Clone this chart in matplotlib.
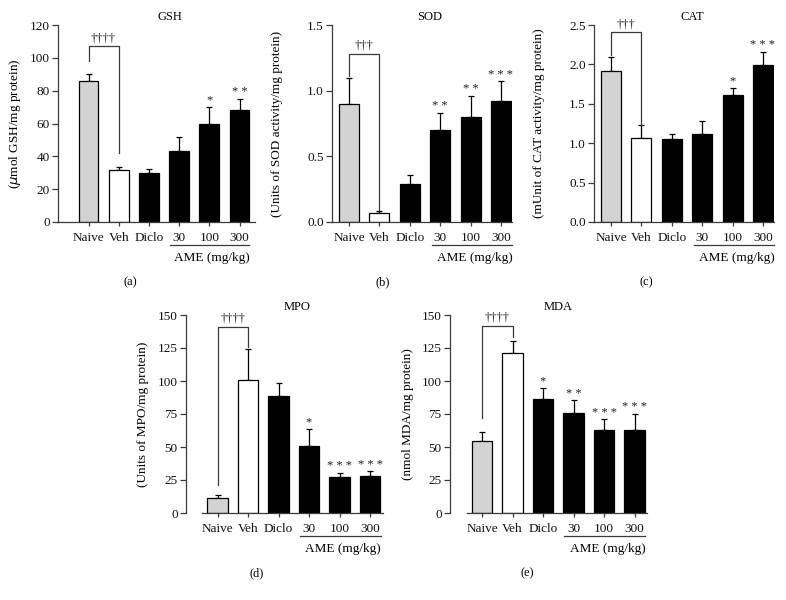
import matplotlib
matplotlib.use("Agg")
import matplotlib.pyplot as plt
import matplotlib.transforms as mtransforms

plt.rcParams['font.family'] = ['Liberation Serif', 'DejaVu Serif']
plt.rcParams['font.size'] = 9

W, H = 786, 600

groups = ['Naive', 'Veh', 'Diclo', '30', '100', '300']

gsh = [86, 31.5, 30, 43.5, 60, 68]
gsh_err = [4, 2, 2.5, 8, 10, 7]
gsh_sig = ['', '', '', '', '*', '**']

sod = [0.90, 0.07, 0.29, 0.70, 0.80, 0.92]
sod_err = [0.20, 0.015, 0.07, 0.13, 0.16, 0.15]
sod_sig = ['', '', '', '**', '**', '***']

cat = [1.92, 1.06, 1.05, 1.12, 1.61, 1.99]
cat_err = [0.17, 0.17, 0.07, 0.16, 0.09, 0.17]
cat_sig = ['', '', '', '', '*', '***']

mpo = [11, 101, 89, 51, 27, 28]
mpo_err = [2.5, 23, 9.5, 13, 3.5, 3.5]
mpo_sig = ['', '', '', '*', '***', '***']

mda = [54.5, 121, 86, 76, 63, 63]
mda_err = [7, 9, 9, 9.5, 8, 12]
mda_sig = ['', '', '*', '**', '***', '***']

bar_colors = ['#d3d3d3', 'white', 'black', 'black', 'black', 'black']
AXC = '#3a3a3a'


def fx(px):
    return px / W


def fy(py):
    return 1 - py / H


def panel(L, R, T, B, c0, step, vals, errs, sigs, ymax, ystep, fmt,
          title, title_x, ylabel, ylabel_x, letter, letter_x, letter_y,
          bracket, daggers, line_x, xaxis_start=None):
    ax = fig.add_axes([fx(L), fy(B), fx(R - L), (B - T) / H])
    x = list(range(len(vals)))
    ax.bar(x, vals, width=0.66, color=bar_colors, edgecolor='black',
           linewidth=0.9, zorder=2)
    ax.errorbar(x, vals, yerr=[[0] * len(vals), errs], fmt='none',
                ecolor='black', elinewidth=0.9, capsize=2.5, capthick=0.9,
                zorder=1)
    ax.set_xlim((L - c0) / step, (R - c0) / step)
    ax.set_ylim(0, ymax)
    ticks = [i * ystep for i in range(int(round(ymax / ystep)) + 1)]
    ax.set_yticks(ticks)
    ax.set_yticklabels([fmt.format(t) for t in ticks])
    ax.set_xticks(x)
    ax.set_xticklabels(groups)
    for s in ['top', 'right']:
        ax.spines[s].set_visible(False)
    for s in ['left', 'bottom']:
        ax.spines[s].set_color(AXC)
        ax.spines[s].set_linewidth(0.9)
    if xaxis_start is not None:
        ax.spines['bottom'].set_bounds(xaxis_start, (R - c0) / step)
    ax.tick_params(colors=AXC, labelcolor='#111111', length=4, width=0.9,
                   labelsize=9.5, pad=2)
    ax.tick_params(axis='x', length=3, pad=4)

    # significance marks
    for i, (v, e, s) in enumerate(zip(vals, errs, sigs)):
        if s:
            ax.text(i, v + e + ymax * 0.003, ' '.join(s) if len(s) > 1 else s,
                    ha='center', va='bottom', fontsize=9, color='#222222')

    # bracket Naive vs Veh
    top, left_end, right_end = bracket
    ax.plot([0, 0, 1, 1], [left_end, top, top, right_end], color=AXC,
            lw=0.9, clip_on=False)
    ax.text(0.5, top + ymax * 0.01, daggers, ha='center', va='bottom',
            fontsize=9, color='#222222')

    # AME underline and label
    trans = mtransforms.blended_transform_factory(ax.transData, ax.transAxes)
    hgt = B - T
    ax.plot(line_x, [-23 / hgt] * 2, color=AXC, lw=0.9,
            transform=trans, clip_on=False)
    ax.text((line_x[0] + line_x[1]) / 2 + 0.1, -36 / hgt, 'AME (mg/kg)',
            ha='center', va='center', fontsize=9.5, transform=trans)

    fig.text(fx(title_x), fy(T - 8), title, ha='center', va='center',
             fontsize=9)
    fig.text(fx(ylabel_x), fy((T + B) / 2), ylabel, ha='center',
             va='center', rotation=90, fontsize=9.5)
    fig.text(fx(letter_x), fy(letter_y), letter, ha='center', va='center',
             fontsize=9)
    return ax


fig = plt.figure(figsize=(W / 100, H / 100), dpi=100)

panel(58, 255, 25, 222, 88.5, 30.2, gsh, gsh_err, gsh_sig, 120, 20, '{:.0f}',
      'GSH', 170, '($\\mu$mol GSH/mg protein)', 15, '(a)', 130, 282,
      (107, 98, 42), '††††', (2.7, 5.3))
panel(332, 512, 25, 222, 349, 30.4, sod, sod_err, sod_sig, 1.5, 0.5, '{:.1f}',
      'SOD', 430, '(Units of SOD activity/mg protein)', 277, '(b)', 383, 282,
      (1.28, 1.11, 0.09), '†††', (2.72, 5.36))
panel(594, 774, 25, 222, 611, 30.4, cat, cat_err, cat_sig, 2.5, 0.5, '{:.1f}',
      'CAT', 692, '(mUnit of CAT activity/mg protein)', 539, '(c)', 646, 282,
      (2.41, 2.12, 1.23), '†††', (2.72, 5.36))
panel(186, 383, 315, 513, 217.5, 30.5, mpo, mpo_err, mpo_sig, 150, 25, '{:.0f}',
      'MPO', 297, '(Units of MPO/mg protein)', 143, '(d)', 257, 573,
      (141, 21, 126), '††††', (2.7, 5.35), xaxis_start=-0.5)
panel(450, 647, 315, 513, 482, 30.5, mda, mda_err, mda_sig, 150, 25, '{:.0f}',
      'MDA', 558, '(nmol MDA/mg protein)', 408, '(e)', 527, 573,
      (142, 72, 133), '††††', (2.7, 5.35), xaxis_start=-0.5)

fig.savefig('out.png', dpi=100)
